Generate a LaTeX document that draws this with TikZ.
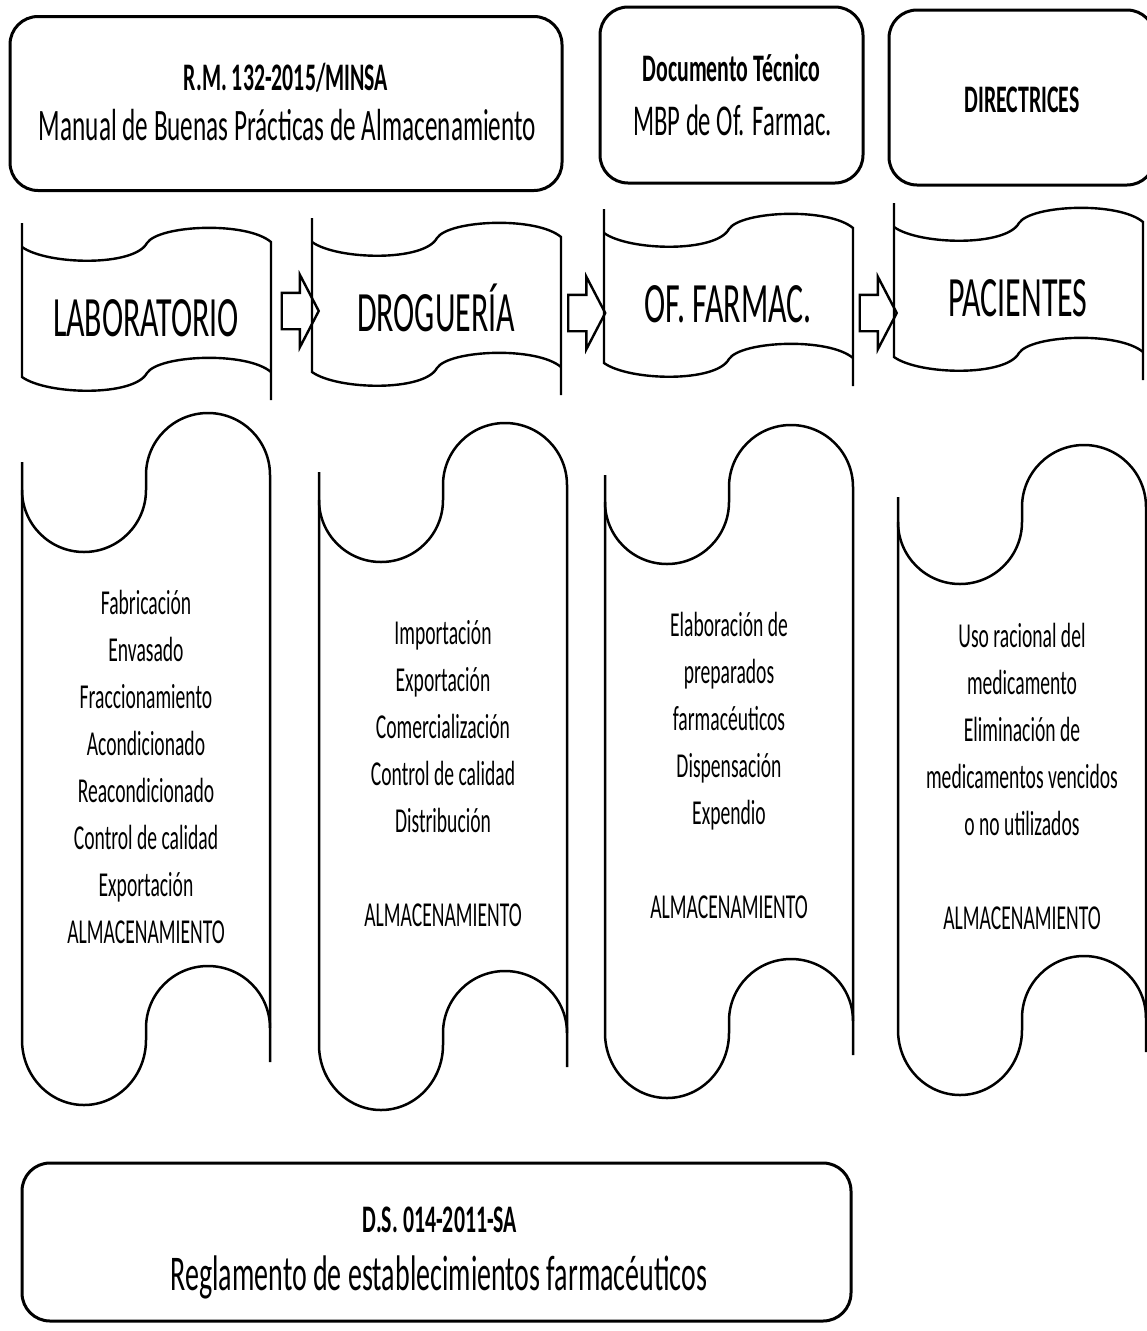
\documentclass[tikz,border=0pt]{standalone}
\usepackage{fontspec}
\setmainfont{Carlito}[FakeStretch=0.56]
\usetikzlibrary{shapes.arrows}
\tikzset{
  caja/.style={draw, line width=3pt, rounded corners=28pt},
  bandera/.style={line width=2.4pt},
  rollo/.style={line width=2.5pt},
  flecha/.style={draw, line width=2.4pt, single arrow, single arrow head extend=18pt,
    single arrow tip angle=125, minimum height=37pt, inner xsep=0pt, inner ysep=17pt},
  etiqueta/.style={font=\fontsize{57}{58}\selectfont},
  negrita/.style={anchor=base, font=\bfseries\fontsize{39}{40}\selectfont},
  texto/.style={align=center, font=\fontsize{35}{47}\selectfont}
}

\begin{document}
\begin{tikzpicture}[x=1pt,y=-1pt]
\useasboundingbox (0,0) rectangle (1147,1331);
% cadres du haut et du bas
\node[caja, minimum width=552pt, minimum height=174pt] (rm) at (286,103.5) {};
\node[caja, minimum width=263pt, minimum height=176pt] (dt) at (731.5,95) {};
\node[caja, minimum width=266pt, minimum height=175pt] (dir) at (1022,97.5) {};
\node[caja, minimum width=829pt, minimum height=158pt] (ds) at (436.5,1242) {};
\node[negrita] (rmA) at (286,90) {R.M. 132-2015/MINSA};
\node[anchor=base, font=\fontsize{45}{46}\selectfont] (rmB) at (287.5,140) {Manual de Buenas Prácticas de Almacenamiento};
\node[negrita] (dtA) at (731.5,81) {Documento Técnico};
\node[anchor=base, font=\fontsize{44}{45}\selectfont] (dtB) at (732.5,135) {MBP de Of. Farmac.};
\node[negrita] (dirA) at (1022,112) {DIRECTRICES};
\node[negrita] (dsA) at (440,1232) {D.S. 014-2011-SA};
\node[anchor=base, font=\fontsize{50}{51}\selectfont] (dsB) at (439,1290) {Reglamento de establecimientos farmacéuticos};
% banderas
\foreach \X/\Y/\Txt in {22/227/LABORATORIO, 312/222/DROGUERÍA, 604/213/OF. FARMAC., 894/207/PACIENTES}{
  \draw[bandera] (\X,\Y-4) -- (\X,\Y+150) .. controls (\X+25,\Y+168) and (\X+112,\Y+170) .. (\X+125,\Y+146)
    .. controls (\X+137,\Y+128) and (\X+224,\Y+124) .. (\X+249,\Y+145);
  \draw[bandera] (\X,\Y+20) .. controls (\X+25,\Y+38) and (\X+112,\Y+40) .. (\X+125,\Y+16)
    .. controls (\X+137,\Y-2) and (\X+224,\Y-6) .. (\X+249,\Y+15) -- (\X+249,\Y+173);
  \node[etiqueta, anchor=base] (b\X) at (\X+124,\Y+109) {\Txt};
}
\foreach \X/\Y [count=\i] in {295.5/311, 582/313, 873.5/313}
  \node[flecha] (fl\i) at (\X,\Y) {};
% rollos
\foreach \X/\Ya/\Yb/\Yc/\Yd/\Txt in {
  22/462/490/1040/766.5/{Fabricación\\Envasado\\Fraccionamiento\\Acondicionado\\Reacondicionado\\Control de calidad\\Exportación\\ALMACENAMIENTO},
  319/472/500/1045/773.5/{Importación\\Exportación\\Comercialización\\Control de calidad\\Distribución\\[47pt]ALMACENAMIENTO},
  605/475/502/1033/765.5/{Elaboración de\\preparados\\farmacéuticos\\Dispensación\\Expendio\\[47pt]ALMACENAMIENTO},
  898/497/522/1030/776/{Uso racional del\\medicamento\\Eliminación de\\medicamentos vencidos\\o no utilizados\\[47pt]ALMACENAMIENTO}}{
  \draw[rollo] (\X,\Ya) -- (\X,\Yc) arc[start angle=180, end angle=0, x radius=62, y radius=65]
    -- ++(0,-12) arc[start angle=180, end angle=360, radius=62];
  \draw[rollo] (\X,\Yb) arc[start angle=180, end angle=0, radius=62]
    -- ++(0,-15) arc[start angle=180, end angle=360, radius=62] -- (\X+248,\Yc+22);
  \node[texto] (r\X) at (\X+124,\Yd) {\Txt};
}
\end{tikzpicture}
\end{document}
